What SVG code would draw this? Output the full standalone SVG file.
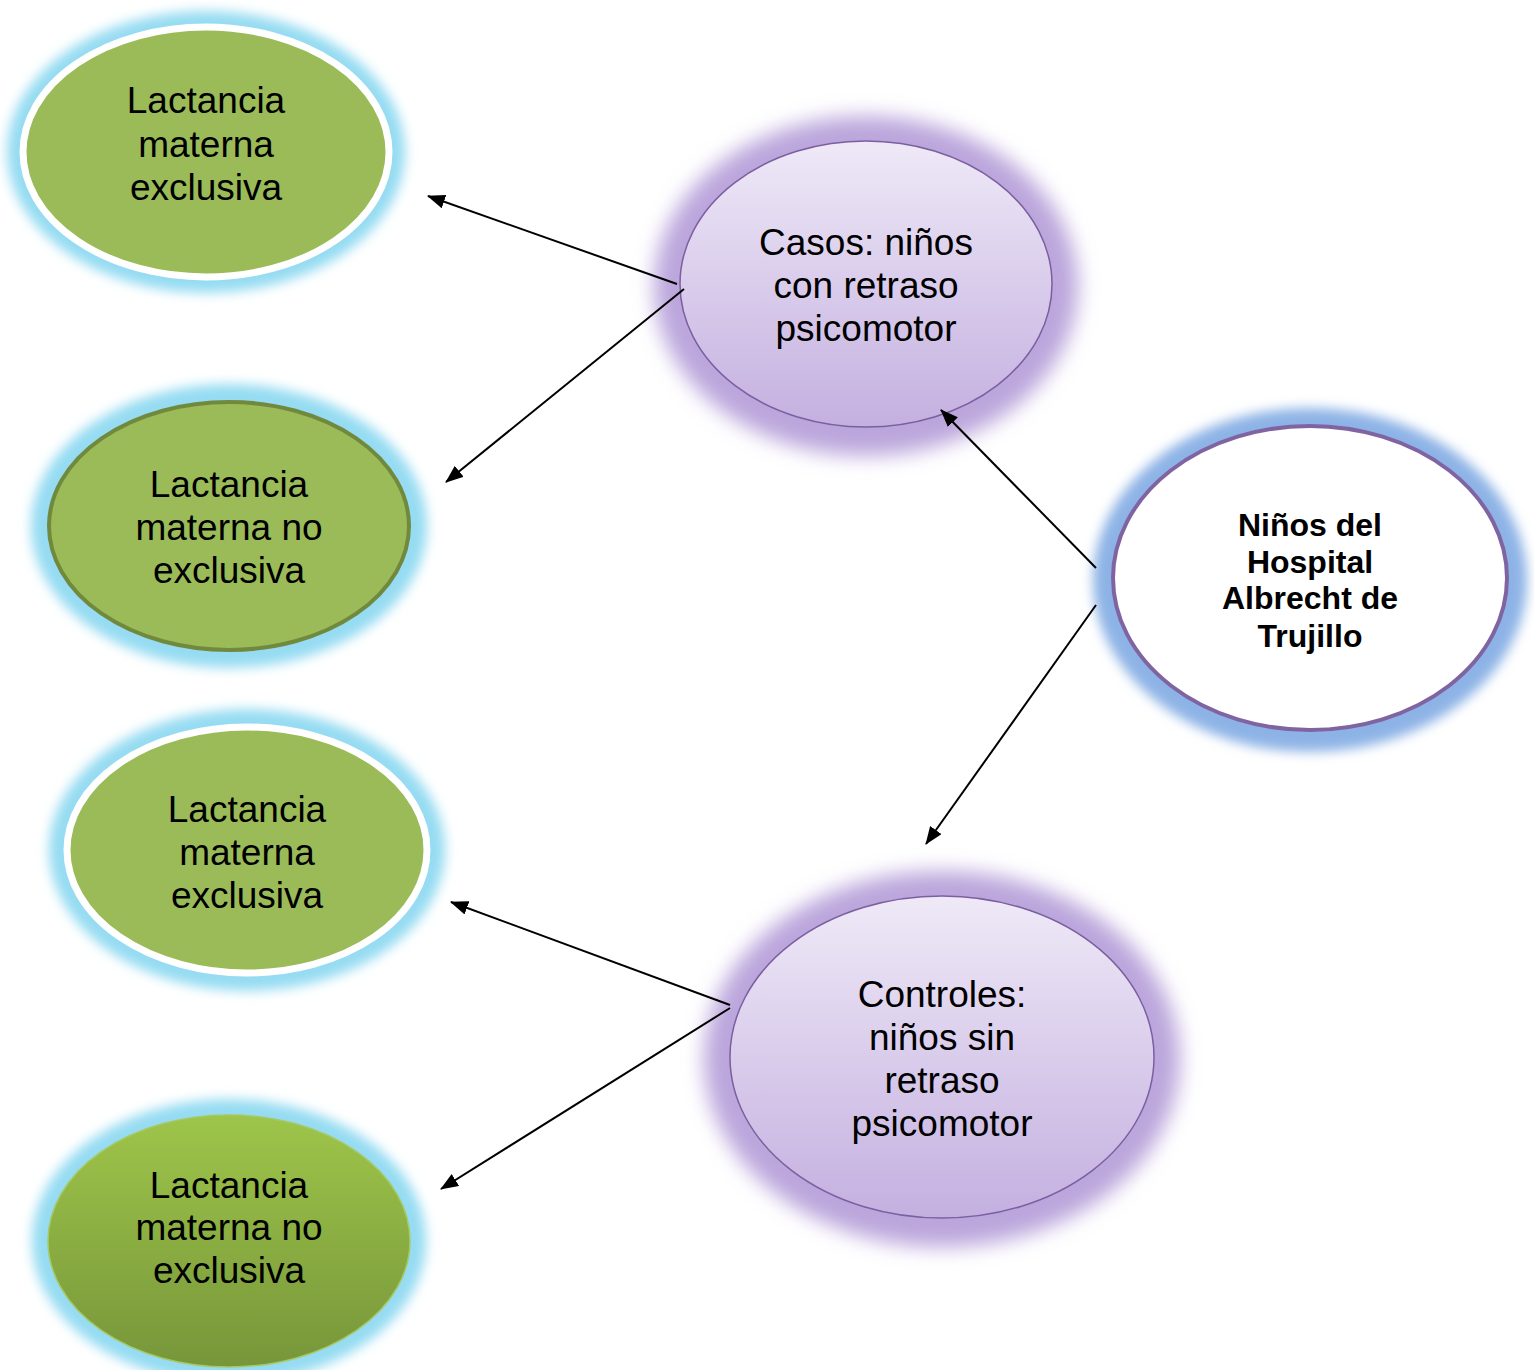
<svg xmlns="http://www.w3.org/2000/svg" width="1534" height="1370" viewBox="0 0 1534 1370">
<defs>
<filter id="glowS" x="-30%" y="-30%" width="160%" height="160%"><feGaussianBlur stdDeviation="6"/></filter>
<filter id="glowL" x="-30%" y="-30%" width="160%" height="160%"><feGaussianBlur stdDeviation="10"/></filter>
<linearGradient id="purp" x1="0" y1="0" x2="0" y2="1"><stop offset="0" stop-color="#efe9f7"/><stop offset="1" stop-color="#c4b0e0"/></linearGradient>
<linearGradient id="grn" x1="0" y1="0" x2="0" y2="1"><stop offset="0" stop-color="#9ec54a"/><stop offset="1" stop-color="#77963a"/></linearGradient>
<marker id="ah" markerWidth="18" markerHeight="14" refX="17" refY="7" orient="auto" markerUnits="userSpaceOnUse"><path d="M0,0 L18,7 L0,14 Z" fill="#000"/></marker>
</defs>
<style>
.t{font-family:"Liberation Sans",Arial,sans-serif;font-size:37px;fill:#000;text-anchor:middle}
.b{font-family:"Liberation Sans",Arial,sans-serif;font-size:32px;font-weight:bold;fill:#000;text-anchor:middle}
.cg{fill:#95dbf2}
.pg{fill:#bba6dc}
.bg{fill:#8db3e6}
.c{stroke:#000;stroke-width:2;fill:none;marker-end:url(#ah)}
</style>
<rect width="1534" height="1370" fill="#fff"/>

<g id="n1">
<ellipse class="cg" cx="206" cy="152" rx="199" ry="141" filter="url(#glowS)"/>
<ellipse cx="206" cy="152" rx="183" ry="125" fill="#9bbb59" stroke="#fff" stroke-width="7"/>
<text class="t" x="206" y="113">Lactancia</text>
<text class="t" x="206" y="157">materna</text>
<text class="t" x="206" y="200">exclusiva</text>
</g>

<g id="n2">
<ellipse class="cg" cx="229" cy="526" rx="198" ry="142" filter="url(#glowS)"/>
<ellipse cx="229" cy="526" rx="180" ry="124" fill="#9bbb59" stroke="#71893c" stroke-width="4"/>
<text class="t" x="229" y="497">Lactancia</text>
<text class="t" x="229" y="540">materna no</text>
<text class="t" x="229" y="583">exclusiva</text>
</g>

<g id="n3">
<ellipse class="cg" cx="247" cy="850" rx="198" ry="141" filter="url(#glowS)"/>
<ellipse cx="247" cy="850" rx="180" ry="123" fill="#9bbb59" stroke="#fff" stroke-width="7"/>
<text class="t" x="247" y="822">Lactancia</text>
<text class="t" x="247" y="865">materna</text>
<text class="t" x="247" y="908">exclusiva</text>
</g>

<g id="n4">
<ellipse class="cg" cx="229" cy="1241" rx="197" ry="142" filter="url(#glowS)"/>
<ellipse cx="229" cy="1241" rx="181" ry="126" fill="url(#grn)" stroke="#a6c964" stroke-width="1.5"/>
<text class="t" x="229" y="1198">Lactancia</text>
<text class="t" x="229" y="1240">materna no</text>
<text class="t" x="229" y="1283">exclusiva</text>
</g>

<g id="casos">
<ellipse class="pg" cx="866" cy="286" rx="212" ry="170" filter="url(#glowL)"/>
<ellipse cx="866" cy="284" rx="186" ry="143" fill="url(#purp)" stroke="#7b5fa0" stroke-width="1.5"/>
<text class="t" x="866" y="255">Casos: niños</text>
<text class="t" x="866" y="298">con retraso</text>
<text class="t" x="866" y="341">psicomotor</text>
</g>

<g id="controles">
<ellipse class="pg" cx="942" cy="1059" rx="238" ry="188" filter="url(#glowL)"/>
<ellipse cx="942" cy="1057" rx="212" ry="161" fill="url(#purp)" stroke="#7b5fa0" stroke-width="1.5"/>
<text class="t" x="942" y="1007">Controles:</text>
<text class="t" x="942" y="1050">niños sin</text>
<text class="t" x="942" y="1093">retraso</text>
<text class="t" x="942" y="1136">psicomotor</text>
</g>

<g id="ninos">
<ellipse class="bg" cx="1310" cy="580" rx="217" ry="172" filter="url(#glowS)"/>
<ellipse cx="1310" cy="578" rx="197" ry="152" fill="#fff" stroke="#8064a2" stroke-width="4"/>
<text class="b" x="1310" y="536">Niños del</text>
<text class="b" x="1310" y="573">Hospital</text>
<text class="b" x="1310" y="609">Albrecht de</text>
<text class="b" x="1310" y="647">Trujillo</text>
</g>

<g id="connectors">
<line class="c" x1="677" y1="284" x2="428" y2="196"/>
<line class="c" x1="684" y1="289" x2="446" y2="482"/>
<line class="c" x1="1096" y1="568" x2="941" y2="410"/>
<line class="c" x1="1096" y1="605" x2="926" y2="844"/>
<line class="c" x1="730" y1="1005" x2="451" y2="902"/>
<line class="c" x1="730" y1="1008" x2="441" y2="1189"/>
</g>
</svg>
